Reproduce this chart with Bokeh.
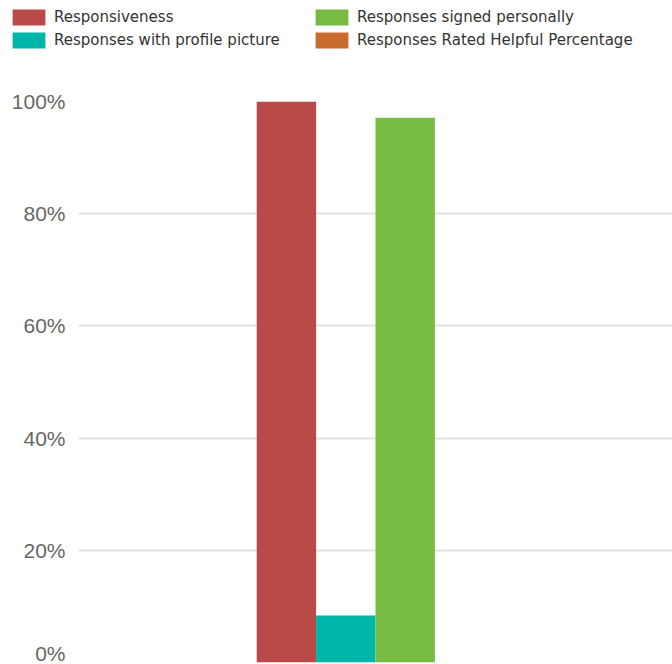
from bokeh.plotting import figure
from bokeh.layouts import column
from bokeh.models import (FactorRange, Range1d, FixedTicker, NumeralTickFormatter,
                          Legend, LegendItem, ColumnDataSource)
from bokeh.transform import dodge
from bokeh.embed import file_html
from bokeh.resources import INLINE

# ---- data ----
categories = ["Reviews"]
series_names = ["Responsiveness", "Responses with profile picture",
                "Responses signed personally", "Responses Rated Helpful Percentage"]
series_values = [100.0, 8.4, 97.1, 0.0]          # percent
series_colors = ["#b94a48", "#00b5a9", "#78bb42", "#c96b2c"]
y_ticks = [0, 20, 40, 60, 80, 100]

W = 672
LEG_H = 56

# ---- main chart ----
p = figure(width=W, height=664 - LEG_H, output_backend="svg", toolbar_location=None,
           x_range=FactorRange(*categories, range_padding=0),
           y_range=Range1d(0, 1), x_axis_location=None,
           min_border_left=78, min_border_right=0, min_border_top=45,
           min_border_bottom=2)
p.outline_line_color = None
p.background_fill_color = "white"
p.border_fill_color = "white"
p.frame_align = False

bar_w = 0.1
n = len(series_names)
sources = []
for i, (name, val, col) in enumerate(zip(series_names, series_values, series_colors)):
    src = ColumnDataSource(dict(x=categories, top=[val / 100.0]))
    sources.append(src)
    p.vbar(x=dodge("x", (i - (n - 1) / 2) * bar_w, range=p.x_range), top="top",
           width=bar_w, bottom=0, source=src, fill_color=col, line_color=None)

p.xgrid.grid_line_color = None
p.ygrid.grid_line_color = "#e2e2e2"
p.ygrid.grid_line_width = 2
p.ygrid.ticker = FixedTicker(ticks=[t / 100 for t in y_ticks])

ax = p.yaxis[0]
ax.ticker = FixedTicker(ticks=[t / 100 for t in y_ticks])
ax.formatter = NumeralTickFormatter(format="0%")
ax.axis_line_color = None
ax.major_tick_line_color = None
ax.minor_tick_line_color = None
ax.major_tick_out = 0
ax.major_tick_in = 0
ax.major_label_standoff = 13
ax.major_label_text_font = "Liberation Sans"
ax.major_label_text_font_size = "21px"
ax.major_label_text_color = "#666666"

# ---- legend strip (swatches share the series colours) ----
lg = figure(width=W, height=LEG_H, output_backend="svg", toolbar_location=None,
            x_range=FactorRange(*categories, range_padding=0), y_range=Range1d(0, 1),
            x_axis_location=None, y_axis_location=None,
            min_border_left=0, min_border_right=0, min_border_top=0, min_border_bottom=0)
lg.outline_line_color = None
lg.grid.visible = False
lg.frame_align = False
items = []
for name, col, src in zip(series_names, series_colors, sources):
    r = lg.vbar(x="x", top="top", width=bar_w, source=src,
                fill_color=col, line_color=None, visible=False)
    items.append(LegendItem(label=name, renderers=[r]))

legend = Legend(items=items, ncols=2, location=(8, 6),
                glyph_width=41, glyph_height=20, label_standoff=5,
                label_width=254, spacing=3, padding=0, margin=0,
                border_line_color=None, background_fill_alpha=0,
                label_text_font="DejaVu Sans", label_text_font_size="15px",
                label_text_color="#333333")
lg.add_layout(legend)

layout = column(lg, p, spacing=0)
open("out.html", "w").write(file_html(layout, INLINE))
